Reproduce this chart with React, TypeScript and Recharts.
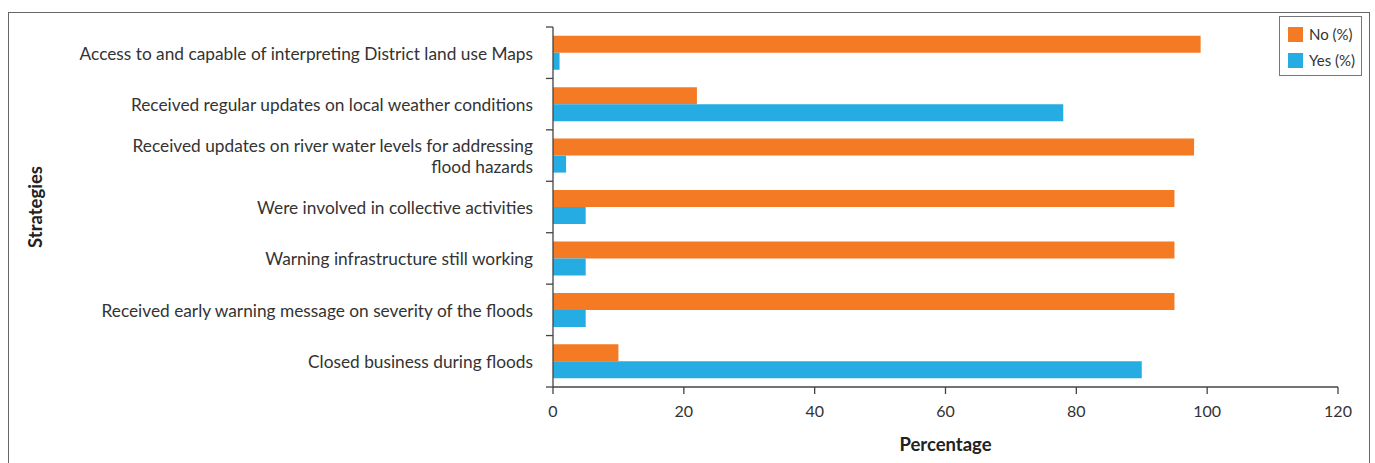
import { BarChart, Bar, XAxis, YAxis, Label } from "recharts";

const categories = [
  "Access to and capable of interpreting District land use Maps",
  "Received regular updates on local weather conditions",
  "Received updates on river water levels for addressing\nflood hazards",
  "Were involved in collective activities",
  "Warning infrastructure still working",
  "Received early warning message on severity of the floods",
  "Closed business during floods",
];
const noValues = [99, 22, 98, 95, 95, 95, 10];
const yesValues = [1, 78, 2, 5, 5, 5, 90];
const xTicks = [0, 20, 40, 60, 80, 100, 120];

const data = categories.map((name, i) => ({ name, no: noValues[i], yes: yesValues[i] }));

const W = 1375;
const H = 463;
const TOP = 27;
const AXIS_Y = 387;
const BAND = (AXIS_Y - TOP) / categories.length;
const FONT = "Lato, 'Open Sans', sans-serif";
const ORANGE = "#F47A24";
const BLUE = "#25ACE2";
const AXIS = "#444";

function CatTick(props: any) {
  const { x, y, payload, index } = props;
  const lines = String(payload.value).split("\n");
  const lh = 21;
  const y0 = y - ((lines.length - 1) * lh) / 2;
  return (
    <g>
      <line x1={x + 1} x2={x + 8} y1={y - BAND / 2} y2={y - BAND / 2} stroke={AXIS} strokeWidth={1.3} />
      {index === categories.length - 1 && (
        <line x1={x + 1} x2={x + 8} y1={y + BAND / 2} y2={y + BAND / 2} stroke={AXIS} strokeWidth={1.3} />
      )}
      <text x={x - 12} y={y0} textAnchor="end" fill="#333" fontSize={17.3} fontFamily={FONT} dominantBaseline="central">
        {lines.map((l, i) => (
          <tspan key={i} x={x - 12} dy={i === 0 ? 0 : lh}>
            {l}
          </tspan>
        ))}
      </text>
    </g>
  );
}

function YTitle(props: any) {
  const vb = props.viewBox || {};
  const cy = (vb.y ?? TOP) + (vb.height ?? AXIS_Y - TOP) / 2;
  return (
    <text
      x={35}
      y={cy}
      transform={`rotate(-90, 35, ${cy})`}
      textAnchor="middle"
      dominantBaseline="central"
      fill="#222"
      fontSize={18.5}
      fontWeight={700}
      fontFamily={FONT}
    >
      Strategies
    </text>
  );
}

export default function App() {
  return (
    <div style={{ position: "fixed", left: 0, top: 0, width: W, height: H, background: "#fff", overflow: "hidden", fontFamily: FONT }}>
      <div style={{ position: "absolute", left: 8, top: 12, width: 1360, height: 480, border: "1px solid #666" }} />
      <div style={{ position: "absolute", left: 0, top: 0 }}>
        <BarChart
          width={W}
          height={H}
          data={data}
          layout="vertical"
          margin={{ top: TOP, right: 37, bottom: 0, left: 0 }}
          barCategoryGap="17%"
          barGap={0}
        >
          <XAxis
            type="number"
            domain={[0, 120]}
            ticks={xTicks}
            height={H - AXIS_Y}
            stroke={AXIS}
            strokeWidth={1.3}
            tickSize={7}
            tickMargin={12}
            tick={{ fill: "#333", fontSize: 16, fontFamily: FONT }}
          >
            <Label value="Percentage" position="insideBottom" offset={12} fill="#222" fontSize={18.5} fontWeight={700} fontFamily={FONT} />
          </XAxis>
          <YAxis
            type="category"
            dataKey="name"
            width={553}
            stroke={AXIS}
            strokeWidth={1.3}
            tickLine={false}
            tick={<CatTick />}
            interval={0}
          >
            <Label content={<YTitle />} />
          </YAxis>
          <Bar dataKey="no" fill={ORANGE} isAnimationActive={false} />
          <Bar dataKey="yes" fill={BLUE} isAnimationActive={false} />
        </BarChart>
      </div>
      <div
        style={{
          position: "absolute",
          left: 1279,
          top: 16,
          width: 83,
          height: 60,
          border: "1px solid #777",
          fontSize: 15,
          color: "#333",
          boxSizing: "border-box",
          padding: "4px 0 0 8px",
        }}
      >
        {[
          { label: "No (%)", color: ORANGE },
          { label: "Yes (%)", color: BLUE },
        ].map((it) => (
          <div key={it.label} style={{ display: "flex", alignItems: "center", height: 26 }}>
            <span style={{ width: 15, height: 15, background: it.color, marginRight: 6 }} />
            {it.label}
          </div>
        ))}
      </div>
    </div>
  );
}
